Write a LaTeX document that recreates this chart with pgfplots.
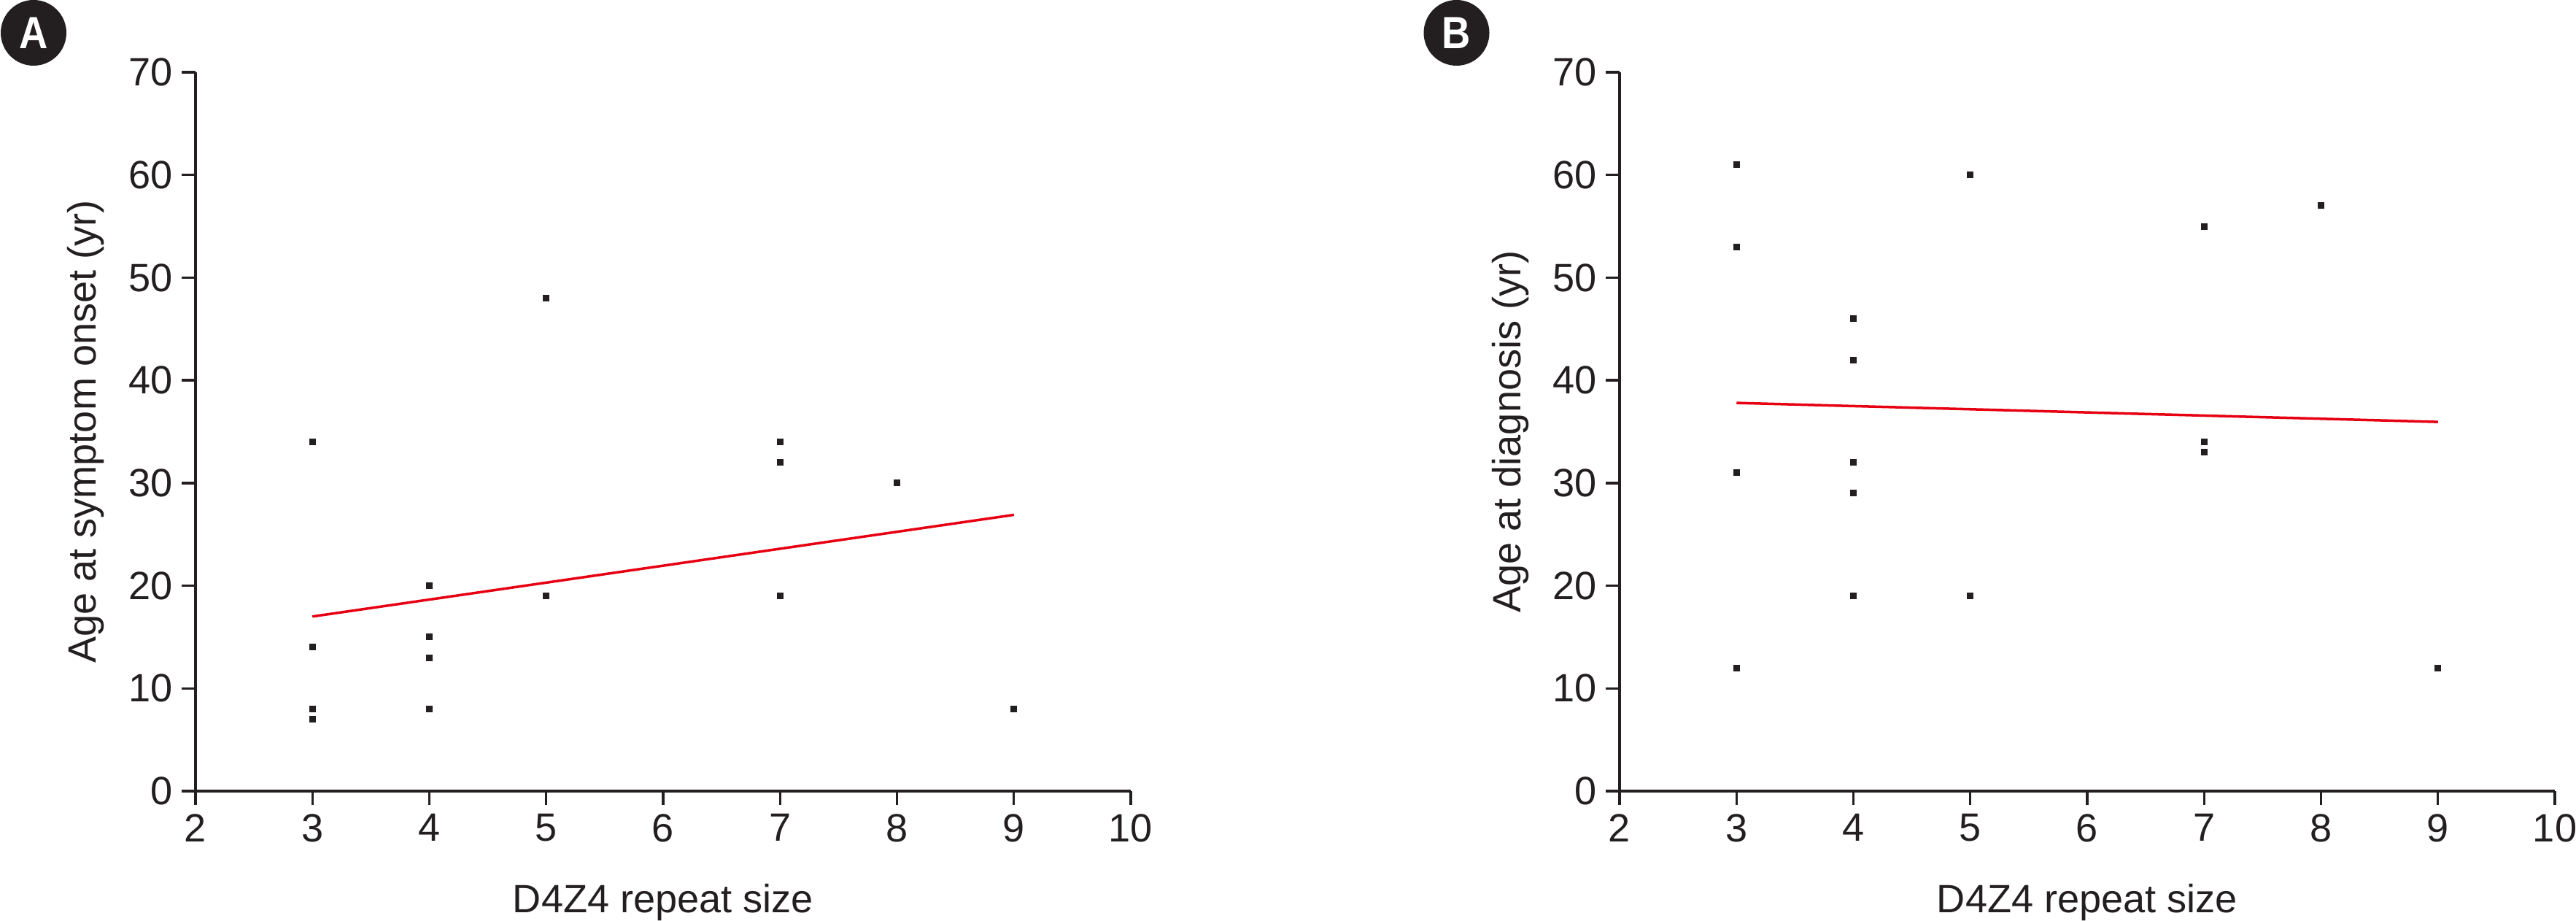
\documentclass[border=0pt]{standalone}
\usepackage{pgfplots}
\pgfplotsset{compat=1.18}
\usepackage{fontspec}
\setmainfont{Liberation Sans}
\definecolor{ink}{HTML}{231F20}
\definecolor{fitred}{HTML}{E60012}
\pgfplotsset{
  panel/.style={
    width=12.82cm, height=9.85cm, scale only axis=true,
    xmin=2, xmax=10, ymin=0, ymax=70,
    xtick={2,3,...,10}, ytick={0,10,...,70},
    axis x line*=bottom, axis y line*=left,
    axis line style={line width=0.033cm, ink},
    every tick/.style={line width=0.033cm, ink},
    tick align=outside, major tick length=0.19cm,
    font=\fontsize{15.4}{18}\selectfont,
    /pgf/number format/assume math mode=true,
    tick label style={text=ink},
    label style={text=ink},
    xlabel={D4Z4 repeat size},
    xlabel style={at={([yshift=-1.67cm]axis description cs:0.5,0)}, anchor=base},
    ylabel style={at={([xshift=-1.36cm]axis description cs:0,0.5)}, anchor=base, rotate=0},
    clip=false,
  },
  dots/.style={only marks, mark=square*, mark size=0.04cm, ink, mark options={fill=ink, draw=ink, line width=0pt}},
  fit/.style={no marks, fitred, line width=0.035cm},
}
\newfontfamily\badgefont[FakeStretch=0.88]{Liberation Sans}
\begin{document}
\begin{tikzpicture}
\useasboundingbox (0,0) rectangle (35.31cm,12.62cm);
% Panel A
\begin{axis}[panel, at={(2.68cm,1.78cm)}, anchor=south west,
  ylabel={Age at symptom onset (yr)}]
\addplot[dots] coordinates {
 (3,34) (3,14) (3,8) (3,7)
 (4,20) (4,15) (4,13) (4,8)
 (5,48) (5,19)
 (7,34) (7,32) (7,19)
 (8,30)
 (9,8)
};
\addplot[fit] coordinates {(3,17.0) (9,26.9)};
\end{axis}
% Panel B
\begin{axis}[panel, at={(22.20cm,1.78cm)}, anchor=south west,
  ylabel={Age at diagnosis (yr)}]
\addplot[dots] coordinates {
 (3,61) (3,53) (3,31) (3,12)
 (4,46) (4,42) (4,32) (4,29) (4,19)
 (5,60) (5,19)
 (7,55) (7,34) (7,33)
 (8,57)
 (9,12)
};
\addplot[fit] coordinates {(3,37.8) (9,35.95)};
\end{axis}
% Panel badges
\fill[ink] (0.46cm,12.17cm) circle (0.45cm);
\node[text=white, font=\badgefont\bfseries\fontsize{17.6}{20}\selectfont, inner sep=0pt] at (0.46cm,12.17cm) {A};
\fill[ink] (19.965cm,12.17cm) circle (0.45cm);
\node[text=white, font=\badgefont\bfseries\fontsize{17.6}{20}\selectfont, inner sep=0pt] at (19.965cm,12.17cm) {B};
\end{tikzpicture}
\end{document}
